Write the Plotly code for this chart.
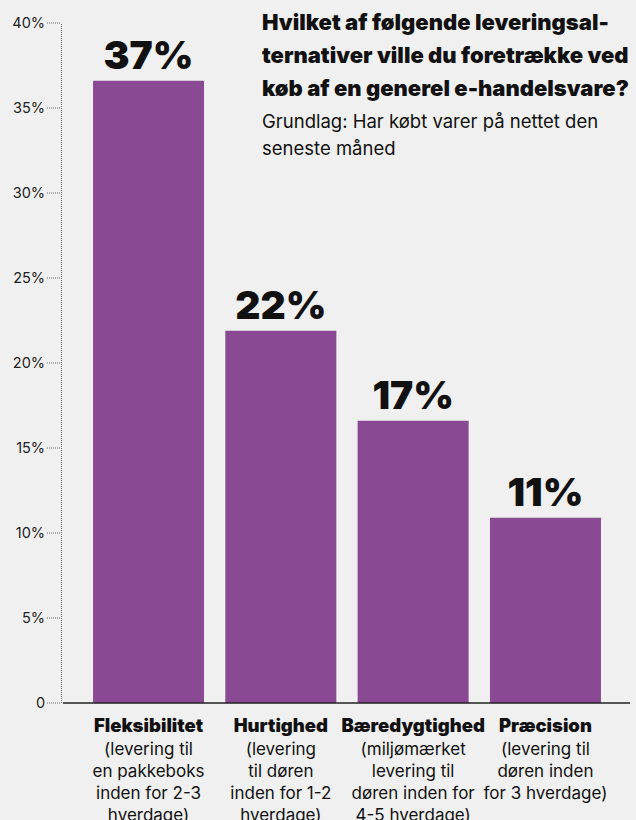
import plotly.graph_objects as go

# Survey: preferred delivery option for a general e-commerce purchase
categories = ["Fleksibilitet", "Hurtighed", "Bæredygtighed", "Præcision"]
descriptions = [
    "(levering til<br>en pakkeboks<br>inden for 2-3<br>hverdage)",
    "(levering<br>til døren<br>inden for 1-2<br>hverdage)",
    "(miljømærket<br>levering til<br>døren inden for<br>4-5 hverdage)",
    "(levering til<br>døren inden<br>for 3 hverdage)",
]
shares = [36.6, 21.9, 16.6, 10.9]  # percent of respondents

y_ticks = [0, 5, 10, 15, 20, 25, 30, 35, 40]
y_tick_labels = ["0", "5%", "10%", "15%", "20%", "25%", "30%", "35%", "40%"]

title_lines = [
    "Hvilket af følgende leveringsal-",
    "ternativer ville du foretrække ved",
    "køb af en generel e-handelsvare?",
]
subtitle_lines = ["Grundlag: Har købt varer på nettet den", "seneste måned"]

FONT = "Inter"
BG = "#f0f0f0"
BAR = "#8a4a93"
INK = "#111111"

tick_text_x = [
    f"<span style='font-size:18.5px;font-weight:900'>{c}</span><br>{d}"
    for c, d in zip(categories, descriptions)
]

fig = go.Figure(
    go.Bar(
        x=categories,
        y=shares,
        marker=dict(color=BAR, line=dict(width=0)),
        text=[f"{round(v)}%" for v in shares],
        textposition="outside",
        textfont=dict(family=FONT, size=39, color=INK, weight=900),
        cliponaxis=False,
        constraintext="none",
        hoverinfo="skip",
    )
)

W, H = 636, 820
ml, mr, mt, mb = 62, 6, 22.7, 117.3
plot_w = W - ml - mr
plot_h = H - mt - mb


def px_x(p):
    """Pixel x -> paper x."""
    return (p - ml) / plot_w


def px_y(p):
    """Pixel y -> paper y."""
    return 1 - (p - mt) / plot_h


fig.update_layout(
    width=W,
    height=H,
    margin=dict(l=ml, r=mr, t=mt, b=mb, pad=0),
    paper_bgcolor=BG,
    plot_bgcolor=BG,
    bargap=0.161,
    showlegend=False,
    font=dict(family=FONT, color=INK),
)

fig.update_xaxes(
    type="category",
    range=[-0.654, 3.639],
    tickvals=categories,
    ticktext=tick_text_x,
    tickangle=0,
    tickfont=dict(family=FONT, size=17, color=INK),
    ticks="outside",
    ticklen=8,
    tickcolor="rgba(0,0,0,0)",
    showline=False,
    showgrid=False,
    zeroline=False,
    automargin=False,
)

fig.update_yaxes(
    range=[0, 40],
    tickvals=y_ticks,
    ticktext=y_tick_labels,
    tickfont=dict(family=FONT, size=14.5, color="#222222"),
    ticks="outside",
    ticklen=13,
    tickcolor="rgba(0,0,0,0)",
    showline=False,
    showgrid=False,
    zeroline=False,
    automargin=False,
)

# Dotted y-axis line and dotted tick marks (paper coordinates so they are not clipped)
y_top = y_ticks[-1]
DOTS = dict(color="#666666", width=1, dash="1px,1px")
fig.add_shape(
    type="line", xref="paper", yref="paper", layer="above",
    x0=px_x(61.5), x1=px_x(61.5), y0=0, y1=1, line=DOTS,
)
for v in y_ticks:
    fig.add_shape(
        type="line", xref="paper", yref="paper", layer="above",
        x0=px_x(47), x1=px_x(61), y0=v / y_top, y1=v / y_top, line=DOTS,
    )

# Solid baseline
fig.add_shape(
    type="line", xref="paper", yref="paper", layer="above",
    x0=px_x(63), x1=px_x(630), y0=0, y1=0,
    line=dict(color="#222222", width=1.6),
)

# Question and base note, one annotation per line
for line, cy in zip(title_lines, [22, 55, 88]):
    fig.add_annotation(
        xref="paper", yref="paper",
        x=px_x(260), y=px_y(cy),
        xanchor="left", yanchor="middle", align="left",
        text=line, showarrow=False,
        font=dict(family=FONT, size=22, color=INK, weight=900),
    )
for line, cy in zip(subtitle_lines, [121, 148]):
    fig.add_annotation(
        xref="paper", yref="paper",
        x=px_x(260), y=px_y(cy),
        xanchor="left", yanchor="middle", align="left",
        text=line, showarrow=False,
        font=dict(family=FONT, size=18.5, color=INK),
    )

fig.write_html("out.html")
